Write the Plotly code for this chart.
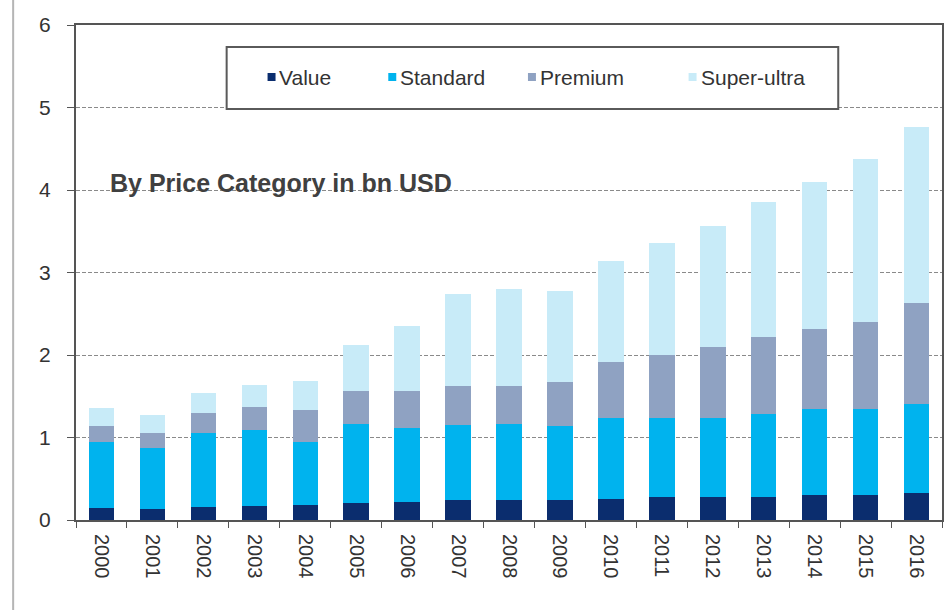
import plotly.graph_objects as go

# Market size by price category, bn USD
years = [str(y) for y in range(2000, 2017)]
value = [0.15, 0.13, 0.16, 0.17, 0.18, 0.21, 0.22, 0.24, 0.24, 0.24, 0.26, 0.28, 0.28, 0.28, 0.30, 0.30, 0.33]
standard = [0.80, 0.74, 0.89, 0.92, 0.77, 0.95, 0.90, 0.91, 0.92, 0.90, 0.98, 0.96, 0.96, 1.00, 1.04, 1.04, 1.08]
premium = [0.19, 0.18, 0.25, 0.28, 0.38, 0.40, 0.44, 0.47, 0.46, 0.53, 0.67, 0.76, 0.86, 0.94, 0.98, 1.06, 1.22]
super_ultra = [0.22, 0.22, 0.24, 0.27, 0.36, 0.56, 0.79, 1.12, 1.18, 1.11, 1.23, 1.36, 1.46, 1.63, 1.78, 1.98, 2.13]

series = [
    ("Value", value, "#0b2d6e"),
    ("Standard", standard, "#00b3ee"),
    ("Premium", premium, "#8fa2c2"),
    ("Super-ultra", super_ultra, "#c8ebf8"),
]

W, H = 951, 610
L, R, T, B = 76, 7, 25, 90
PW, PH = W - L - R, H - T - B

def px(x):
    return (x - L) / PW

def py(y):
    return (H - B - y) / PH

FONT = "Liberation Sans, Arial, sans-serif"
TXT = "#333333"

fig = go.Figure()
for name, vals, col in series:
    fig.add_trace(go.Bar(x=years, y=vals, name=name, marker=dict(color=col, line=dict(width=0)),
                         showlegend=False))

shapes = []
annotations = []

# legend box
shapes.append(dict(type="rect", xref="paper", yref="paper", x0=px(227), x1=px(840), y0=py(109), y1=py(47),
                   line=dict(color="#5a5a5a", width=2), fillcolor="white", layer="above"))
legend_pos = [(268, 277), (389, 399), (529, 539), (690, 700)]
for (name, _, col), (mx, tx) in zip(series, legend_pos):
    shapes.append(dict(type="rect", xref="paper", yref="paper", x0=px(mx), x1=px(mx + 8),
                       y0=py(81), y1=py(73), line=dict(width=0), fillcolor=col, layer="above"))
    annotations.append(dict(text=name, xref="paper", yref="paper", x=px(tx), y=py(77),
                            xanchor="left", yanchor="middle", showarrow=False,
                            font=dict(family=FONT, size=21, color=TXT)))

# subtitle inside the plot
annotations.append(dict(text="<b>By Price Category in bn USD</b>", xref="paper", yref="paper",
                        x=px(108), y=py(183), xanchor="left", yanchor="middle", showarrow=False,
                        font=dict(family=FONT, size=25, color="#404040")))

# thin page rule on the left
shapes.append(dict(type="line", xref="paper", yref="paper", x0=px(13), x1=px(13),
                   y0=py(610), y1=py(0), line=dict(color="#b5b5b5", width=2)))

fig.update_layout(
    width=W, height=H, autosize=False,
    margin=dict(l=L, r=R, t=T, b=B),
    paper_bgcolor="white", plot_bgcolor="white",
    barmode="stack", bargap=0.5,
    shapes=shapes, annotations=annotations,
    font=dict(family=FONT, color=TXT),
)
fig.update_xaxes(
    type="category", tickangle=90, tickson="boundaries", ticks="outside", ticklen=6,
    tickcolor="#555", showline=True, linecolor="#555", linewidth=2, mirror=True,
    tickfont=dict(family=FONT, size=20, color=TXT), ticklabelstandoff=8, showgrid=False,
)
fig.update_yaxes(
    range=[0, 6], dtick=1, ticks="outside", ticklen=7, tickcolor="#555",
    showline=True, linecolor="#555", linewidth=2, mirror=True,
    showgrid=True, gridcolor="#8a8a8a", gridwidth=1, griddash="4px,2px",
    tickfont=dict(family=FONT, size=21, color=TXT), ticklabelstandoff=12, zeroline=False,
)

fig.write_html("out.html")
